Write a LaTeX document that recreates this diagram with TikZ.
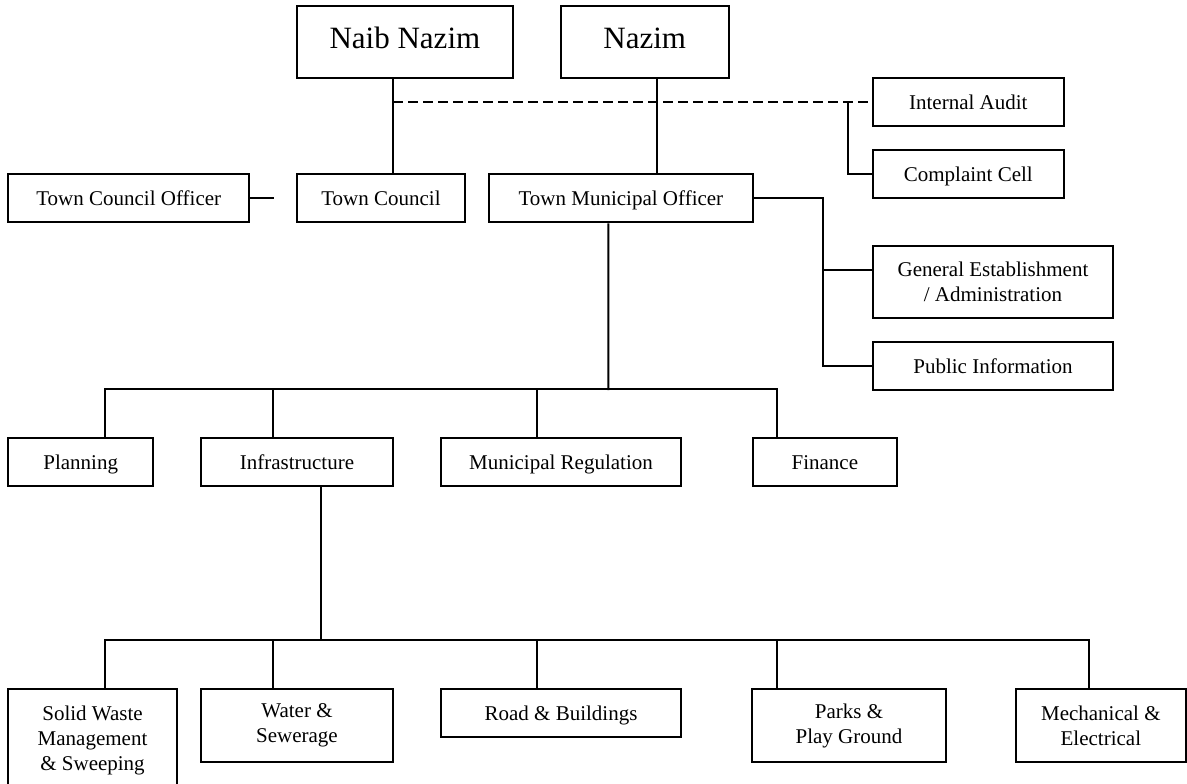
\documentclass[tikz,border=0pt]{standalone}
\usepackage{fontspec}
\setmainfont{Liberation Serif}
\begin{document}
\begin{tikzpicture}[x=1pt,y=-1pt,
  box/.style={draw,line width=2pt,inner sep=0pt,align=center,
    font=\fontsize{21}{25}\selectfont},
  onebox/.style={box,text height=15.5pt,text depth=1.5pt},
  bigbox/.style={box,text height=23pt,text depth=9.6pt,font=\fontsize{31}{36}\selectfont},
  conn/.style={line width=2pt},
  dconn/.style={line width=2pt,dash pattern=on 10pt off 5pt}]
\useasboundingbox (0,0) rectangle (1187,784);
% top
\node[bigbox,minimum width=216.6pt,minimum height=72.6pt] (naib) at (404.9,42) {Naib Nazim};
\node[bigbox,minimum width=168pt,minimum height=72.6pt] (nazim) at (644.7,42) {Nazim};
\node[onebox,minimum width=191.5pt,minimum height=48pt] (ia) at (968.3,102.3) {Internal Audit};
\node[onebox,minimum width=191.5pt,minimum height=48pt] (cc) at (968.3,174.3) {Complaint Cell};
% second row
\node[onebox,minimum width=240.7pt,minimum height=48.3pt] (tco) at (128.75,198.2) {Town Council Officer};
\node[onebox,minimum width=168.8pt,minimum height=48.3pt] (tc) at (381,198.2) {Town Council};
\node[onebox,minimum width=264.3pt,minimum height=48.3pt] (tmo) at (620.9,198.2) {Town Municipal Officer};
\node[box,minimum width=240.6pt,minimum height=72pt] (ge) at (993,282) {General Establishment\\/ Administration};
\node[onebox,minimum width=240.6pt,minimum height=48pt] (pi) at (993,366.3) {Public Information};
% third row
\node[onebox,minimum width=144.6pt,minimum height=48pt] (plan) at (80.7,462) {Planning};
\node[onebox,minimum width=192.1pt,minimum height=48pt] (infra) at (297,462) {Infrastructure};
\node[onebox,minimum width=240pt,minimum height=48pt] (mr) at (561,462) {Municipal Regulation};
\node[onebox,minimum width=144.3pt,minimum height=48pt] (fin) at (824.85,462) {Finance};
% bottom row
\node[box,minimum width=168.3pt,minimum height=111.4pt,text depth=14.3pt] (sw) at (92.55,745) {Solid Waste\\Management\\\& Sweeping};
\node[box,minimum width=192.1pt,minimum height=72.4pt] (ws) at (297,725.5) {Water \&\\Sewerage};
\node[onebox,minimum width=240pt,minimum height=48pt] (rb) at (561,713.3) {Road \& Buildings};
\node[box,minimum width=193.4pt,minimum height=72.4pt] (pk) at (849,725.5) {Parks \&\\Play Ground};
\node[box,minimum width=169.7pt,minimum height=72.4pt] (mech) at (1100.85,725.5) {Mechanical \&\\Electrical};
% free ends / junctions
\coordinate (tcoend) at (273.6,198.2);
\coordinate (busA) at (608.3,390);
\coordinate (busB) at (320.7,641.3);
% connectors
\draw[conn] ([xshift=-11.9pt]naib.south) -- ([xshift=-11.9pt]naib.south |- tc.north);
\draw[dconn] ([xshift=-11.9pt]naib.south |- ia.west) -- (ia.west);
\draw[conn] ([xshift=-23.5pt]ia.west) |- (cc.west);
\draw[conn] ([xshift=12.3pt]nazim.south) -- ([xshift=12.3pt]nazim.south |- tmo.north);
\draw[conn] (tco.east) -- (tcoend);
\draw[conn] (tmo.east) -| ([xshift=-48.3pt]pi.west) -- (pi.west);
\draw[conn] ([xshift=-48.3pt,yshift=12pt]ge.west) -- ([yshift=12pt]ge.west);
\draw[conn] ([xshift=-12.6pt]tmo.south) -- (busA);
\draw[conn] ([xshift=24.5pt]plan.north) -- ++(0,-48) -| ([xshift=-47.85pt]fin.north);
\draw[conn] ([xshift=-24.1pt]infra.north) -- ++(0,-48);
\draw[conn] ([xshift=-24pt]mr.north) -- ++(0,-48);
\draw[conn] ([xshift=23.7pt]infra.south) -- (busB);
\draw[conn] ([xshift=12.65pt]sw.north) -- ++(0,-48) -| ([xshift=-12.15pt]mech.north);
\draw[conn] ([xshift=-24pt]ws.north) -- ++(0,-48);
\draw[conn] ([xshift=-23.7pt]rb.north) -- ++(0,-48);
\draw[conn] ([xshift=-72pt]pk.north) -- ++(0,-48);
\end{tikzpicture}
\end{document}
